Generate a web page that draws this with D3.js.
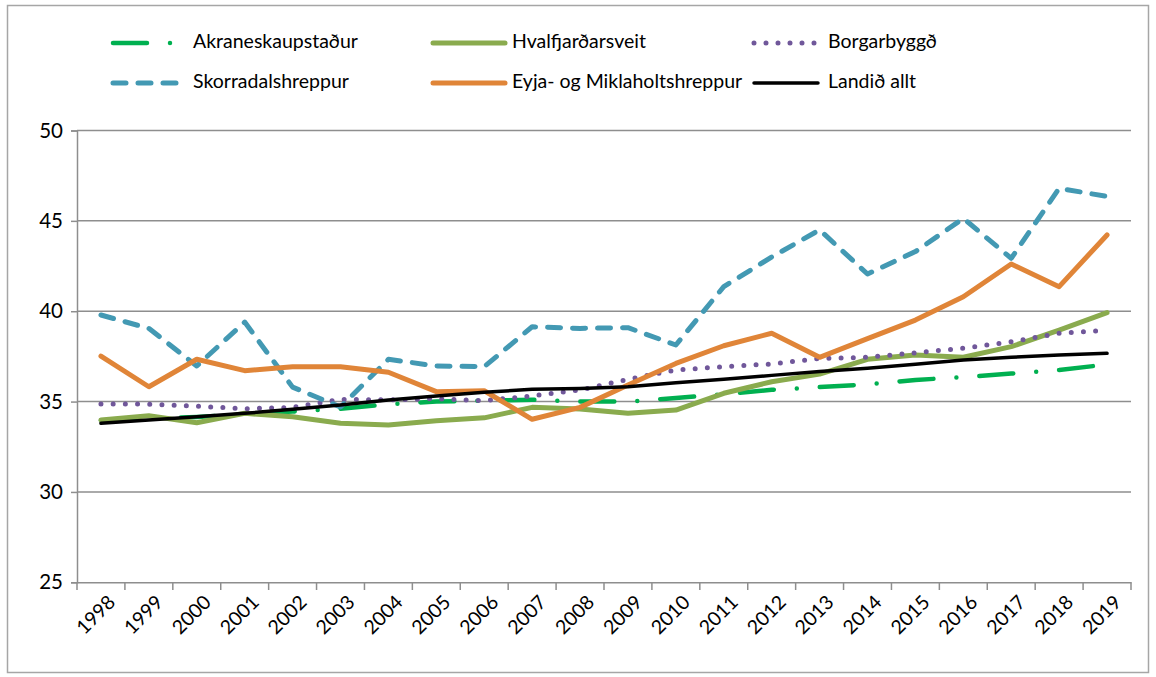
<!DOCTYPE html>
<html>
<head>
<meta charset="utf-8">
<script src="https://cdn.jsdelivr.net/npm/d3@7"></script>
<style>
  html, body { margin: 0; padding: 0; background: #fff; }
  svg { display: block; font-family: Lato, "Open Sans", sans-serif; }
</style>
</head>
<body>
<svg id="chart" width="1156" height="677"></svg>
<script>
const years = ["1998","1999","2000","2001","2002","2003","2004","2005","2006","2007","2008","2009","2010","2011","2012","2013","2014","2015","2016","2017","2018","2019"];
const yTicks = [25, 30, 35, 40, 45, 50];

const akranes   = [33.95,34.05,34.15,34.3,34.45,34.6,34.85,35.0,35.05,35.1,35.0,35.0,35.2,35.4,35.65,35.8,35.95,36.2,36.35,36.55,36.75,37.05];
const hvalfj    = [33.98,34.22,33.83,34.35,34.16,33.8,33.7,33.94,34.1,34.68,34.59,34.35,34.53,35.46,36.1,36.52,37.34,37.58,37.45,38.04,38.96,39.92];
const borgarb   = [34.86,34.86,34.75,34.6,34.68,35.12,35.09,35.16,35.05,35.31,35.64,36.23,36.75,36.93,37.08,37.39,37.45,37.7,37.95,38.31,38.78,38.95];
const skorrad   = [39.79,39.05,36.97,39.4,35.8,34.7,37.34,36.97,36.93,39.14,39.05,39.09,38.13,41.36,43.0,44.5,42.06,43.3,45.14,42.93,46.8,46.35];
const eyja      = [37.52,35.82,37.34,36.71,36.93,36.93,36.62,35.55,35.6,34.02,34.68,35.92,37.11,38.09,38.78,37.45,38.48,39.51,40.8,42.61,41.36,44.22];
const landid    = [33.8,33.98,34.16,34.35,34.57,34.81,35.09,35.31,35.51,35.68,35.73,35.82,36.04,36.23,36.45,36.67,36.84,37.06,37.3,37.45,37.58,37.67];

const seriesNames = ["Akraneskaupstaður","Hvalfjarðarsveit","Borgarbyggð","Skorradalshreppur","Eyja- og Miklaholtshreppur","Landið allt"];
const seriesValues = [akranes, hvalfj, borgarb, skorrad, eyja, landid];
const seriesStyles = [
  {color:"#00b050", width:4.5, dash:"34 23 0 23", cap:"round"},
  {color:"#8aab4e", width:5,   dash:null, cap:"round"},
  {color:"#70579a", width:5,   dash:"0 12.2", cap:"round"},
  {color:"#4399b3", width:5,   dash:"13 12", cap:"round"},
  {color:"#e08538", width:5,   dash:null, cap:"round"},
  {color:"#000000", width:3.5, dash:null, cap:"round"}
];

const svg = d3.select("#chart");
const gray = "#8e8e8e";

// outer border
svg.append("rect").attr("x",7.5).attr("y",5.5).attr("width",1141).attr("height",667)
  .attr("fill","none").attr("stroke","#a6a6a6").attr("stroke-width",1.5);

const x = d3.scaleBand().domain(years).range([77, 1131]).paddingInner(0).paddingOuter(0);
const y = d3.scaleLinear().domain([25, 50]).range([582.3, 130.5]);
const cx = d => x(d) + x.bandwidth() / 2;

// gridlines
svg.append("g").selectAll("line").data(yTicks.filter(t => t !== 25)).join("line")
  .attr("x1", 77).attr("x2", 1131)
  .attr("y1", d => y(d)).attr("y2", d => y(d))
  .attr("stroke", gray).attr("stroke-width", 1.5);

// y axis
const yAxis = svg.append("g").attr("transform", "translate(77,0)")
  .call(d3.axisLeft(y).tickValues(yTicks).tickSize(6).tickPadding(8).tickFormat(d3.format("d")));
yAxis.select(".domain").attr("stroke", gray).attr("stroke-width", 1.5);
yAxis.selectAll(".tick line").attr("stroke", gray).attr("stroke-width", 1.5);
yAxis.selectAll(".tick text").attr("font-size", 20.5).attr("fill", "#000")
  .attr("font-family", "Lato, sans-serif");

// x axis (ticks at band boundaries)
const xAxis = svg.append("g").attr("transform", "translate(0,582.3)")
  .call(d3.axisBottom(x).tickSize(0).tickFormat(""));
xAxis.select(".domain").attr("stroke", gray).attr("stroke-width", 1.5);
const bounds = years.map(d => x(d)).concat([x.range()[1]]);
svg.append("g").selectAll("line").data(bounds).join("line")
  .attr("x1", d => d).attr("x2", d => d).attr("y1", 582.3).attr("y2", 590)
  .attr("stroke", gray).attr("stroke-width", 1.5);
svg.append("g").selectAll("text").data(years).join("text")
  .attr("transform", d => `translate(${cx(d) + 12},${600}) rotate(-45)`)
  .attr("text-anchor", "end")
  .attr("dominant-baseline", "middle")
  .attr("font-size", 19.5)
  .attr("fill", "#000")
  .text(d => d);

// lines
const line = d3.line().x((v, i) => cx(years[i])).y(v => y(v));
seriesValues.forEach((vals, k) => {
  const st = seriesStyles[k];
  svg.append("path").datum(vals)
    .attr("d", line)
    .attr("fill", "none")
    .attr("stroke", st.color)
    .attr("stroke-width", st.width)
    .attr("stroke-linecap", st.cap)
    .attr("stroke-linejoin", "round")
    .attr("stroke-dasharray", st.dash);
});

// legend
const legendPos = [
  {lx1:113, lx2:180, tx:193, ty:43},
  {lx1:433, lx2:505, tx:512, ty:43},
  {lx1:754, lx2:818, tx:828, ty:43},
  {lx1:113, lx2:180, tx:193, ty:83},
  {lx1:433, lx2:505, tx:512, ty:83},
  {lx1:754, lx2:818, tx:828, ty:83}
];
const legendDash = ["34 23 0 23", null, "0 12", "13 12", null, null];
const lg = svg.append("g");
seriesNames.forEach((name, k) => {
  const p = legendPos[k], st = seriesStyles[k];
  lg.append("line").attr("x1", p.lx1).attr("x2", p.lx2).attr("y1", p.ty).attr("y2", p.ty)
    .attr("stroke", st.color).attr("stroke-width", st.width)
    .attr("stroke-linecap", "round").attr("stroke-dasharray", legendDash[k]);
  lg.append("text").attr("x", p.tx).attr("y", p.ty).attr("dominant-baseline", "middle")
    .attr("font-size", 19.5).attr("fill", "#000").text(name);
});
</script>
</body>
</html>
